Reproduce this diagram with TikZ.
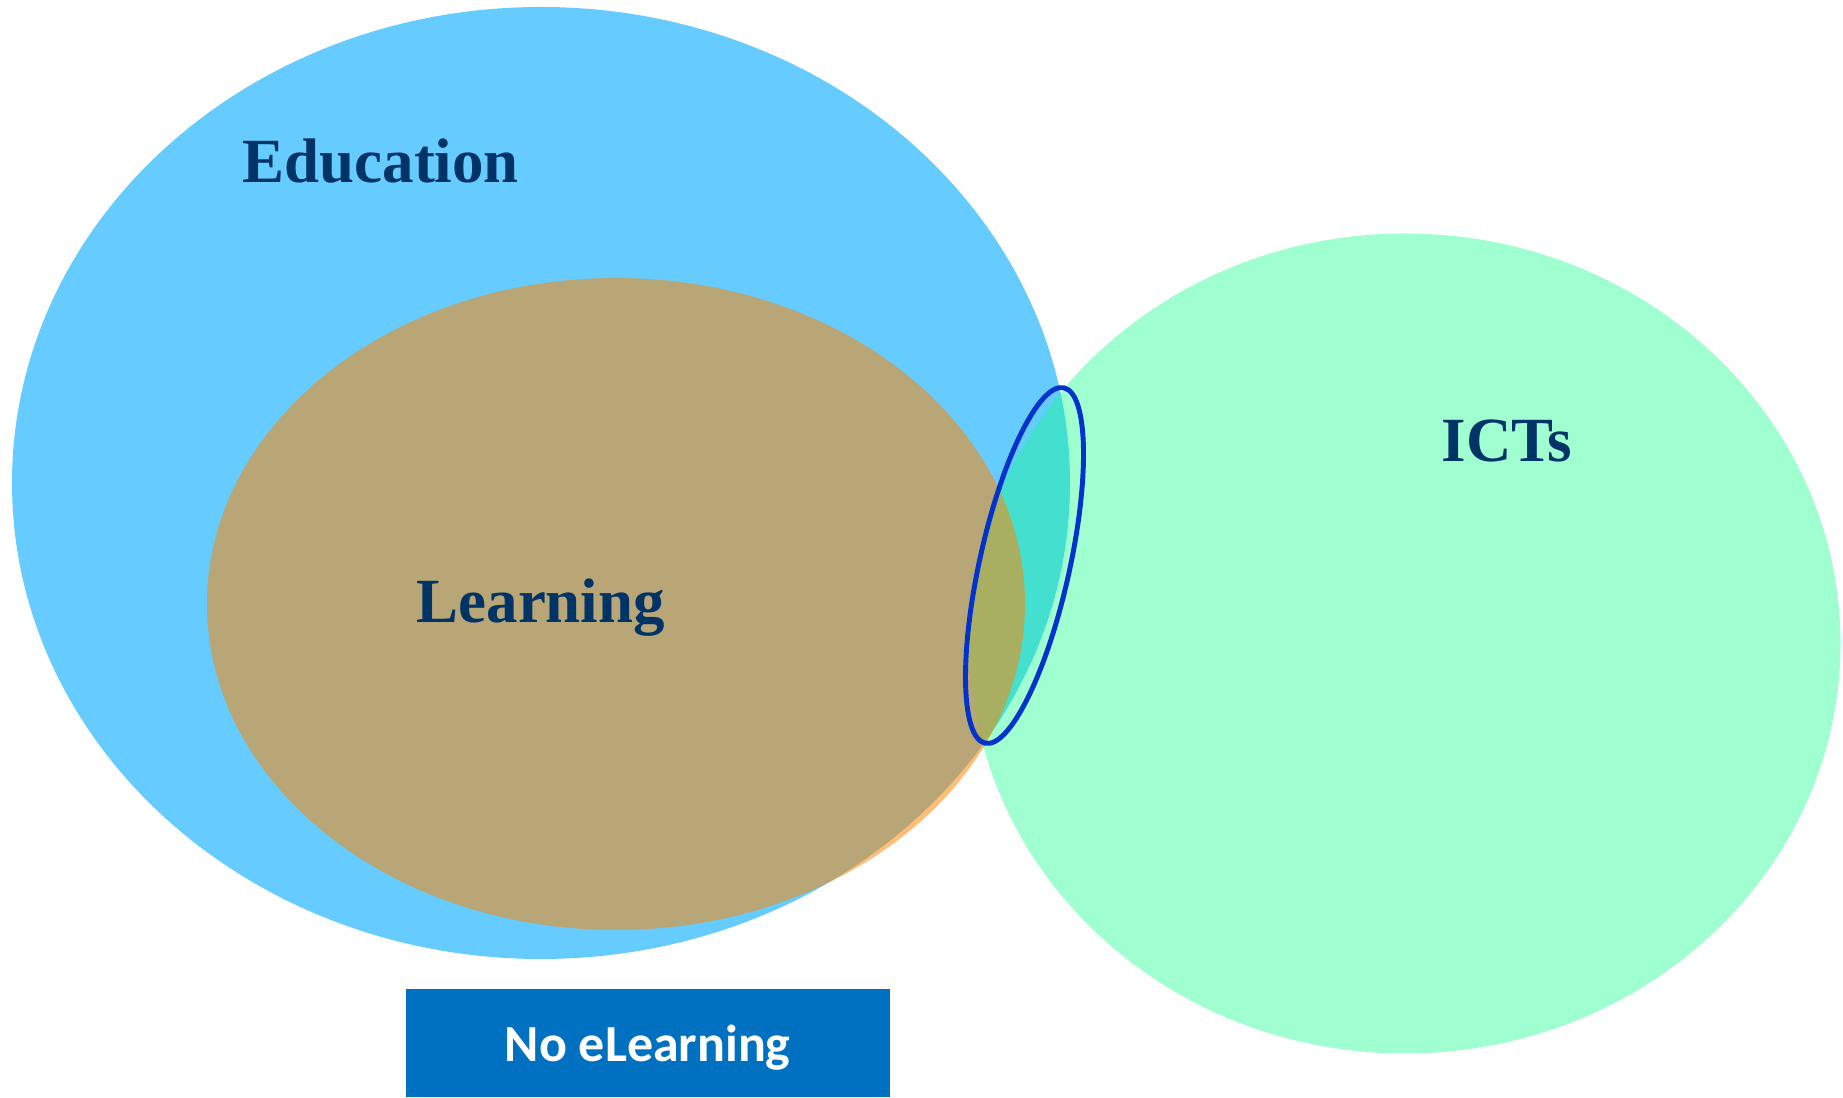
\documentclass[tikz,border=0pt]{standalone}
\usepackage{fontspec}
\setmainfont{Liberation Serif}
\newfontfamily\boxfont{Carlito}
\usetikzlibrary{positioning}

\definecolor{edublue}{RGB}{102,204,255}
\definecolor{ictgreen}{RGB}{18,255,137}
\definecolor{learnorange}{RGB}{255,134,3}
\definecolor{ringblue}{RGB}{0,51,204}
\definecolor{navy}{RGB}{0,51,102}
\definecolor{boxblue}{RGB}{0,112,192}

\tikzset{setname/.style={anchor=base west,inner sep=0pt,text=navy,font=\fontsize{17.9}{20}\selectfont\bfseries}}

\begin{document}
\begin{tikzpicture}
\useasboundingbox (0,0) rectangle (18.43,10.98);

% the three sets
\fill[edublue] (5.41,6.15) ellipse (5.29 and 4.76);
\fill[ictgreen,opacity=0.4] (14.05,4.545) ellipse (4.355 and 4.10);
\fill[learnorange,opacity=0.54] (6.16,4.94) ellipse (4.09 and 3.26);

% ring round the overlap
\coordinate (lens) at (10.245,5.325);
\draw[ringblue,line width=1.4pt,rotate around={-12.5:(lens)}] (lens) ellipse (0.45 and 1.82);

\node[setname] (education) at (2.42,9.15) {Education};
\node[setname] (learning) at (4.16,4.75) {Learning};
\node[setname] (icts) at (14.41,6.36) {ICTs};

\node[anchor=south west,fill=boxblue,minimum width=4.84cm,minimum height=1.08cm,inner sep=0pt,text depth=0pt,
      text=white,font=\boxfont\fontsize{14.8}{16}\selectfont\bfseries] (noelearning) at (4.05,0) {No eLearning};

\end{tikzpicture}
\end{document}
